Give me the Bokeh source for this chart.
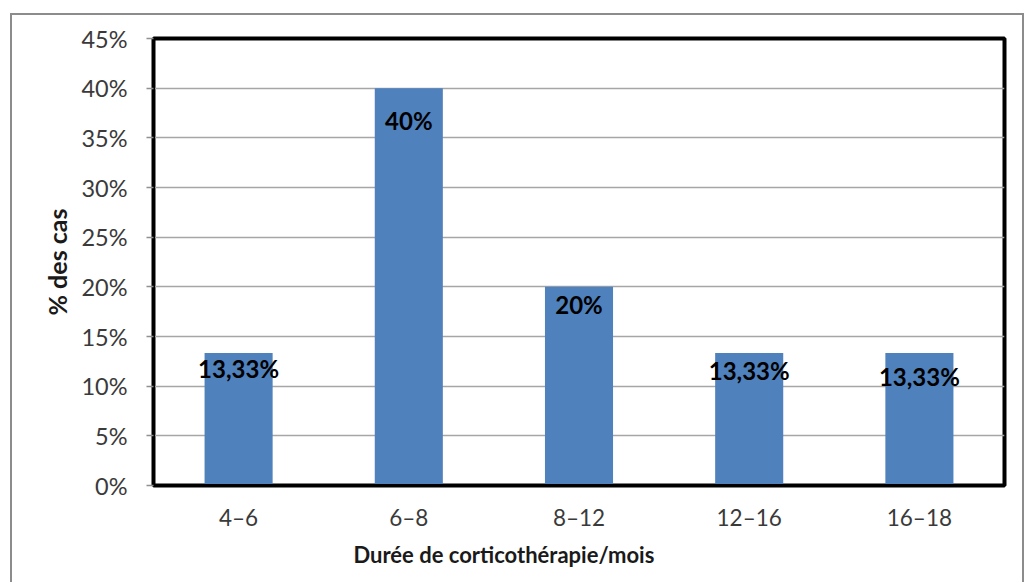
from bokeh.plotting import figure
from bokeh.models import (ColumnDataSource, FactorRange, Range1d, FixedTicker,
                          PrintfTickFormatter, Title, InlineStyleSheet)
from bokeh.core.properties import value
from bokeh.embed import file_html
from bokeh.resources import INLINE

categories = ["4–6", "6–8", "8–12", "12–16", "16–18"]
values = [13.33, 40, 20, 13.33, 13.33]
value_labels = ["13,33%", "40%", "20%", "13,33%", "13,33%"]
y_ticks = [0, 5, 10, 15, 20, 25, 30, 35, 40, 45]
label_offsets = [1, 18, 3, 3, 9]

FONT = "Lato"

src = ColumnDataSource(dict(cat=categories, val=values, lab=value_labels,
                            off=label_offsets))

p = figure(x_range=FactorRange(factors=categories, range_padding=0),
           y_range=Range1d(0, 45),
           frame_width=851, frame_height=447,
           min_border_left=153, min_border_right=24,
           min_border_top=38, min_border_bottom=40,
           output_backend="svg", toolbar_location=None, tools="")

p.vbar(x="cat", top="val", width=0.4, source=src, color="#4F81BD", line_color=None)
p.text(x="cat", y="val", text="lab", source=src, y_offset="off",
       text_align="center", text_baseline="top", text_font=value(FONT),
       text_font_size="24px", text_font_style="bold", text_color="#000000")

p.outline_line_color = "black"
p.outline_line_width = 4

p.xgrid.grid_line_color = None
p.ygrid.grid_line_color = "#a6a6a6"
p.ygrid.grid_line_width = 1.5

yax = p.yaxis[0]
yax.ticker = FixedTicker(ticks=y_ticks)
yax.formatter = PrintfTickFormatter(format="%d%%")
yax.minor_tick_line_color = None
yax.major_tick_in = 0
yax.major_tick_out = 7
yax.major_tick_line_color = "#909090"
yax.major_tick_line_width = 1.5
yax.axis_line_color = "black"
yax.axis_line_width = 3
yax.major_label_standoff = 19
yax.major_label_text_font = FONT
yax.major_label_text_font_size = "23.5px"
yax.major_label_text_color = "#3a3a3a"
yax.axis_label = "% des cas"
yax.axis_label_text_font = FONT
yax.axis_label_text_font_size = "25px"
yax.axis_label_text_font_style = "bold"
yax.axis_label_text_color = "#1a1a1a"
yax.axis_label_standoff = 6

xax = p.xaxis[0]
xax.major_tick_line_color = None
xax.minor_tick_line_color = None
xax.major_tick_out = 0
xax.major_tick_in = 0
xax.axis_line_color = "black"
xax.axis_line_width = 3
xax.major_label_standoff = 18
xax.major_label_text_font = FONT
xax.major_label_text_font_size = "22.5px"
xax.major_label_text_color = "#3a3a3a"

xtitle = Title(text="Durée de corticothérapie/mois", align="left", offset=200,
               text_font=FONT, text_font_size="22px", text_font_style="bold",
               text_color="#1a1a1a", standoff=10)
p.add_layout(xtitle, "below")

p.stylesheets = [InlineStyleSheet(css="""
:host { position: relative; overflow: visible; }
:host::after {
  content: ""; position: absolute; left: 10px; top: 13px;
  width: 1010px; height: 620px; border: 2px solid #8c8c8c;
  pointer-events: none; z-index: 10;
}
""")]

open("out.html", "w").write(file_html(p, INLINE))
